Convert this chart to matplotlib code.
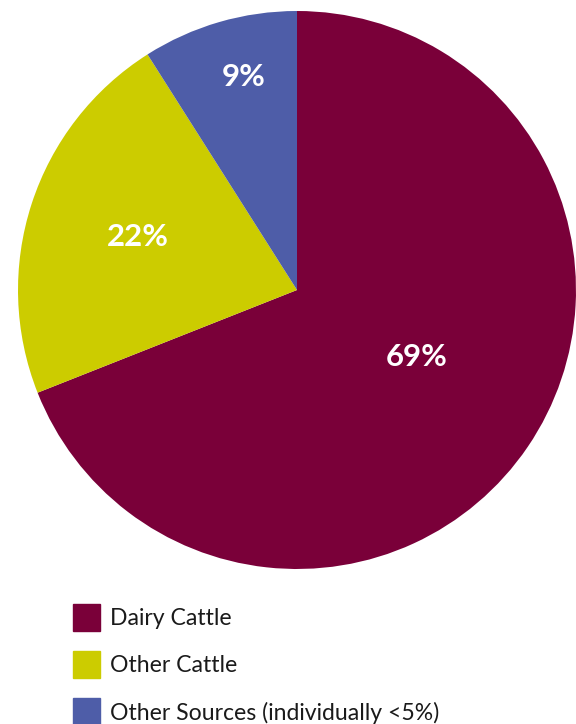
import matplotlib
matplotlib.use("Agg")
import matplotlib.pyplot as plt
from matplotlib.patches import Rectangle

labels = ["Dairy Cattle", "Other Cattle", "Other Sources (individually <5%)"]
shares = [69, 22, 9]
colors = ["#7A0039", "#CCCC00", "#4E5DA8"]
# label positions inside each slice (axes data units, pie radius = 1)
label_xy = [(0.43, -0.24), (-0.57, 0.19), (-0.19, 0.765)]

plt.rcParams["font.family"] = ["Lato", "DejaVu Sans"]

fig = plt.figure(figsize=(5.76, 7.24), dpi=100)
ax = fig.add_axes([0.03125, 0.2141, 0.96875, 0.7707])
ax.pie(shares, colors=colors, startangle=90, counterclock=False,
       radius=1.0, wedgeprops=dict(linewidth=0))
ax.set_xlim(-1, 1)
ax.set_ylim(-1, 1)
ax.set_aspect("equal")
ax.axis("off")

for (x, y), s in zip(label_xy, shares):
    ax.text(x, y, f"{s}%", color="white", fontsize=22.5, fontweight="bold",
            ha="center", va="center")

# legend drawn by hand: square swatch + label per row
W, H = 576, 724
for i, (lab, c) in enumerate(zip(labels, colors)):
    top = 604 + i * 47
    fig.patches.append(Rectangle((73 / W, 1 - (top + 27) / H), 27 / W, 27 / H,
                                 transform=fig.transFigure, color=c))
    fig.text(110 / W, 1 - (top + 14.5) / H, lab, fontsize=16.6,
             color="#1a1a1a", va="center", ha="left")

fig.savefig("out.png", dpi=100)
